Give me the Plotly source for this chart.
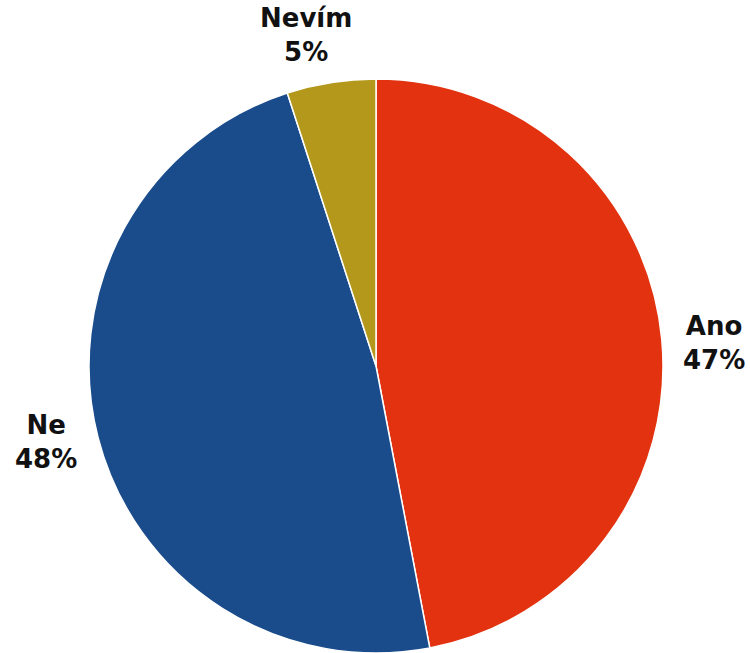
import math
import plotly.graph_objects as go

categories = ["Ano", "Ne", "Nevím"]
values = [47, 48, 5]
colors = ["#E2320F", "#1A4C8C", "#B3981C"]

W, H = 750, 653
cx_px, cy_px, R = 376, 366, 287

dom_x = [(cx_px - R) / W, (cx_px + R) / W]
dom_y = [(H - (cy_px + R)) / H, (H - (cy_px - R)) / H]

fig = go.Figure(go.Pie(
    labels=categories,
    values=values,
    marker=dict(colors=colors, line=dict(color="white", width=1.5)),
    sort=False,
    direction="clockwise",
    rotation=0,
    textinfo="none",
    hoverinfo="label+percent",
    showlegend=False,
    domain=dict(x=dom_x, y=dom_y),
))

total = sum(values)
annotations = []
cum = 0
label_r = [1.18, 1.18, 1.18]
label_dang = [1.5, 1.5, -3.0]
for i, (cat, v) in enumerate(zip(categories, values)):
    mid = (cum + v / 2) / total * 360 + label_dang[i]
    cum += v
    a = math.radians(mid)
    lx = cx_px + label_r[i] * R * math.sin(a)
    ly = cy_px - label_r[i] * R * math.cos(a)
    pct = round(v / total * 100)
    annotations.append(dict(
        x=lx / W, y=(H - ly) / H, xref="paper", yref="paper",
        text=f"<b>{cat}<br>{pct}%</b>", showarrow=False,
        font=dict(family="DejaVu Sans", size=26, color="#111111"),
        align="center", xanchor="center", yanchor="middle",
    ))

fig.update_layout(
    width=W, height=H,
    margin=dict(l=0, r=0, t=0, b=0),
    paper_bgcolor="white", plot_bgcolor="white",
    annotations=annotations,
)

fig.write_html("out.html")
